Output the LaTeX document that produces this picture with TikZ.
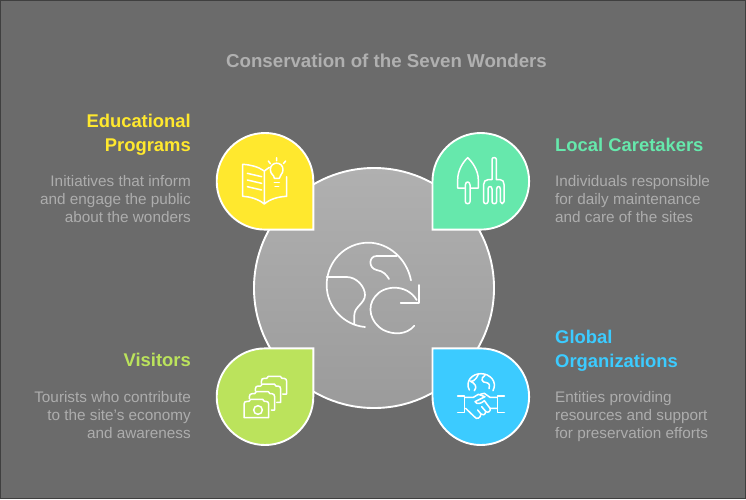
\documentclass[tikz,border=0pt]{standalone}
\usepackage{fontspec}
\setmainfont{Liberation Sans}
\definecolor{bgc}{HTML}{6B6B6B}
\definecolor{bordc}{HTML}{3F3F3F}
\definecolor{ttl}{HTML}{B0B0B0}
\definecolor{bodyc}{HTML}{ADADAD}
\definecolor{yel}{HTML}{FFE82E}
\definecolor{grn}{HTML}{66E8AC}
\definecolor{lim}{HTML}{BBE35C}
\definecolor{blu}{HTML}{3CCBFF}
\tikzset{
  ttlnode/.style={font=\bfseries\fontsize{18.7}{22}\selectfont,text=ttl,inner sep=0pt,anchor=base},
  headr/.style={font=\bfseries\fontsize{18.4}{24}\selectfont,inner sep=0pt,align=right,anchor=north east},
  headl/.style={font=\bfseries\fontsize{18.4}{24}\selectfont,inner sep=0pt,align=left,anchor=north west},
  bodyr/.style={font=\fontsize{15.3}{18}\selectfont,text=bodyc,inner sep=0pt,align=right,anchor=north east},
  bodyl/.style={font=\fontsize{15.3}{18}\selectfont,text=bodyc,inner sep=0pt,align=left,anchor=north west},
  petal/.style={draw=white,line width=1.9pt,line join=miter},
  ico/.style={draw=white,line width=1.5pt,line cap=round,line join=round},
  bigico/.style={draw=white,line width=1.7pt,line cap=round,line join=round},
  zoomed/.style={shift={#1},x=.33333pt,y=-.33333pt}
}
\begin{document}
\begin{tikzpicture}[x=1pt,y=-1pt]
\useasboundingbox (0,0) rectangle (746,499);
\draw[fill=bgc,draw=bordc,line width=1pt] (0.5,0.5) rectangle (745.5,498.5);
\node[ttlnode] (title) at (386.5,67) {Conservation of the Seven Wonders};
% centre circle
\shade[top color=ttl!100!white,bottom color=ttl!88!black] (374,288) circle (120);
\draw[white,line width=1.9pt] (374,288) circle (120);
% petals
\draw[petal,fill=yel] (313.3,229.6) -- (265,229.6) arc[start angle=90,delta angle=270,radius=48.3] -- cycle;
\draw[petal,fill=grn] (432.5,229.6) -- (432.5,181.3) arc[start angle=180,delta angle=270,radius=48.3] -- cycle;
\draw[petal,fill=lim] (313.3,348.4) -- (313.3,396.7) arc[start angle=0,delta angle=270,radius=48.3] -- cycle;
\draw[petal,fill=blu] (432.5,348.4) -- (480.8,348.4) arc[start angle=270,delta angle=270,radius=48.3] -- cycle;
% book icon
\begin{scope}[zoomed={(210,125)}]
\draw[ico] (163,237) .. controls (145,222) and (120,215) .. (98,214) -- (98,118) .. controls (120,119) and (145,125) .. (163,138) -- (163,237)
  .. controls (180,222) and (205,215) .. (230,214) -- (230,155);
\draw[ico] (163,138) -- (178,127);
\draw[ico] (112,145) -- (155,155) (112,165) -- (155,175) (112,185) -- (155,195);
\draw[ico] (193,160) .. controls (193,150) and (181,148) .. (181,134) .. controls (181,108) and (219,108) .. (219,134) .. controls (219,148) and (208,150) .. (208,160) -- cycle;
\draw[ico] (193,172) -- (208,172) (195,184) -- (206,184);
\draw[ico] (200,98) -- (200,107) (175,108) -- (181,116) (227,108) -- (220,116);
\end{scope}
% trowel and fork
\begin{scope}[zoomed={(425,125)}]
\draw[ico] (119,189) -- (98,189) -- (98,165) .. controls (98,135) and (115,110) .. (128,98) .. controls (141,110) and (160,135) .. (160,165) -- (160,189) -- (137,189);
\draw[ico] (121,180) .. controls (121,168) and (135,168) .. (135,180) -- (135,230) .. controls (135,238) and (121,238) .. (121,230) -- cycle;
\draw[ico] (201,164) -- (201,103) .. controls (201,96) and (214,96) .. (214,103) -- (214,164) -- (226,164) .. controls (233,164) and (237,170) .. (237,178) -- (237,230) .. controls (237,238) and (226,238) .. (226,230) -- (226,192) .. controls (226,182) and (215,182) .. (215,192) -- (215,230) .. controls (215,238) and (201,238) .. (201,230) -- (201,192) .. controls (201,182) and (189,182) .. (189,192) -- (189,230) .. controls (189,238) and (176,238) .. (176,230) -- (176,178) .. controls (176,170) and (181,164) .. (189,164) -- cycle;
\end{scope}
% cameras
\begin{scope}[zoomed={(210,340)}]
\draw[ico] (102,233) -- (102,192) .. controls (102,186) and (106,184) .. (112,184) -- (117,184) -- (122,178) -- (158,178) -- (163,184) -- (168,184) .. controls (173,184) and (176,187) .. (176,192) -- (176,233) -- cycle;
\draw[ico] (144,210) circle (13);
\draw[ico] (118,176) -- (118,170) .. controls (118,163) and (122,161) .. (127,161) -- (134,161) -- (139,155) -- (175,155) -- (180,161) -- (186,161) .. controls (191,161) and (194,165) .. (194,170) -- (194,210) -- (184,210);
\draw[ico] (136,153) -- (136,147) .. controls (136,140) and (140,138) .. (145,138) -- (152,138) -- (157,132) -- (193,132) -- (198,138) -- (204,138) .. controls (209,138) and (212,142) .. (212,147) -- (212,187) -- (200,187);
\draw[ico] (154,130) -- (154,124) .. controls (154,117) and (158,115) .. (163,115) -- (170,115) -- (175,109) -- (211,109) -- (216,115) -- (222,115) .. controls (227,115) and (230,119) .. (230,124) -- (230,162) -- (218,162);
\end{scope}
% globe and handshake
\begin{scope}[zoomed={(425,340)}]
\draw[ico] (133,150) .. controls (120,125) and (140,101) .. (168,101) .. controls (195,101) and (218,125) .. (204,152);
\draw[ico] (160,103) .. controls (150,125) and (140,125) .. (135,123) (135,123) .. controls (150,130) and (158,140) .. (148,152);
\draw[ico] (180,106) .. controls (165,115) and (170,128) .. (185,128) .. controls (195,130) and (195,140) .. (192,146);
\draw[ico] (98,168) -- (119,168) -- (119,218) -- (98,218) (238,168) -- (217,168) -- (217,218) -- (238,218);
\draw[ico] (119,172) -- (145,172) -- (160,163) -- (180,170) -- (150,185) .. controls (155,195) and (170,190) .. (178,182) -- (195,205) .. controls (198,215) and (188,220) .. (182,214) .. controls (182,225) and (172,228) .. (168,222) .. controls (166,235) and (155,240) .. (148,230) -- (122,205);
\draw[ico] (217,172) -- (195,172) -- (178,160) -- (165,163) (195,205) -- (217,205);
\draw[ico] (168,222) -- (158,210) (182,214) -- (170,200);
\end{scope}
% central globe
\begin{scope}[zoomed={(315,235)}]
\draw[bigico] (288,136) .. controls (275,70) and (220,23) .. (160,23) .. controls (90,23) and (35,80) .. (35,150) .. controls (35,215) and (85,270) .. (150,276);
\draw[bigico] (35,126) -- (95,126) .. controls (125,126) and (150,155) .. (150,180) .. controls (150,205) and (118,215) .. (118,240) -- (118,268);
\draw[bigico] (245,63) -- (185,63) .. controls (160,63) and (160,100) .. (185,105) .. controls (205,108) and (215,120) .. (222,132);
\draw[bigico] (298,272) .. controls (275,300) and (235,300) .. (205,285) .. controls (165,262) and (155,215) .. (180,185) .. controls (205,150) and (275,145) .. (305,195);
\draw[bigico] (313,150) -- (313,205) -- (257,205);
\end{scope}
% texts
\node[headr,text=yel] (h1) at (191,114) {Educational\\Programs};
\node[bodyr] (b1) at (191,175) {Initiatives that inform\\and engage the public\\about the wonders};
\node[headl,text=grn] (h2) at (555,138) {Local Caretakers};
\node[bodyl] (b2) at (555,175) {Individuals responsible\\for daily maintenance\\and care of the sites};
\node[headr,text=lim] (h3) at (191,353) {Visitors};
\node[bodyr] (b3) at (191,391) {Tourists who contribute\\to the site's economy\\and awareness};
\node[headl,text=blu] (h4) at (555,330) {Global\\Organizations};
\node[bodyl] (b4) at (555,391) {Entities providing\\resources and support\\for preservation efforts};
\end{tikzpicture}
\end{document}
